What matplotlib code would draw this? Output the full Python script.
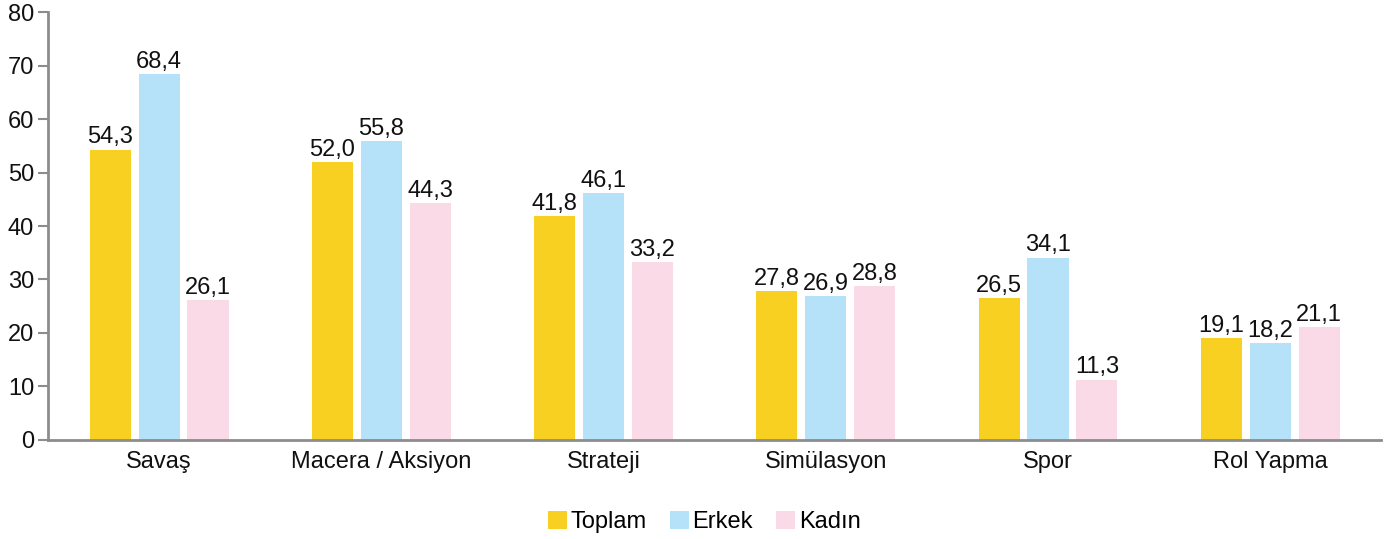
import matplotlib
matplotlib.use("Agg")
import matplotlib.pyplot as plt
import numpy as np

plt.rcParams['font.family'] = ['Liberation Sans', 'DejaVu Sans']

categories = ["Savaş", "Macera / Aksiyon", "Strateji", "Simülasyon", "Spor", "Rol Yapma"]
toplam = [54.3, 52.0, 41.8, 27.8, 26.5, 19.1]
erkek = [68.4, 55.8, 46.1, 26.9, 34.1, 18.2]
kadin = [26.1, 44.3, 33.2, 28.8, 11.3, 21.1]
series_names = ["Toplam", "Erkek", "Kadın"]
colors = ["#F8D022", "#B5E2F8", "#F9DAE6"]

fs = 17

fig = plt.figure(figsize=(13.86, 5.39), dpi=100)
ax = fig.add_axes([0.0346, 0.1837, 0.962, 0.794])

x = np.arange(len(categories)) + 0.5
w = 0.185
off = 0.22
for i, (vals, name, c) in enumerate(zip([toplam, erkek, kadin], series_names, colors)):
    pos = x + (i - 1) * off
    ax.bar(pos, vals, width=w, color=c, label=name, zorder=2)
    for p, v in zip(pos, vals):
        ax.text(p, v + 0.2, f"{v:.1f}".replace(".", ","), ha="center", va="bottom",
                fontsize=fs, color="#111111")

ax.set_xlim(0, 6)
ax.set_ylim(0, 80)
ax.set_yticks(range(0, 81, 10))
ax.set_xticks(x)
ax.set_xticklabels(categories)
ax.tick_params(axis='x', length=0, labelsize=fs, pad=8, colors="#111111")
ax.tick_params(axis='y', length=7, width=1.5, color="#8c8c8c", labelsize=fs, pad=3, labelcolor="#111111")
for s in ["top", "right"]:
    ax.spines[s].set_visible(False)
for s in ["left", "bottom"]:
    ax.spines[s].set_color("#8c8c8c")
    ax.spines[s].set_linewidth(2)

fig.legend(loc="lower center", bbox_to_anchor=(0.508, -0.028), ncol=3, frameon=False,
           fontsize=fs, handlelength=0.8, handleheight=0.8, handletextpad=0.15,
           columnspacing=1.0)

fig.savefig("out.png", dpi=100)
